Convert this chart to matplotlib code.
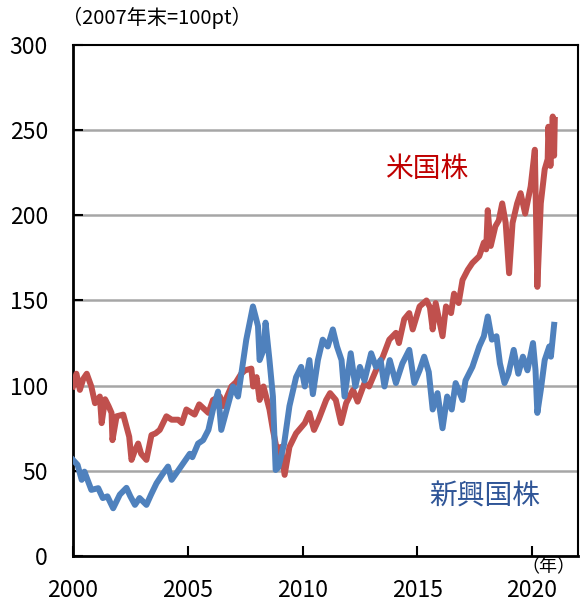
import matplotlib.pyplot as plt

plt.rcParams['font.family'] = ['Noto Sans CJK JP', 'DejaVu Sans']

# values (2007 year-end = 100)
us_years = [2000.0, 2000.15, 2000.3, 2000.45, 2000.6, 2000.8, 2000.96, 2001.17, 2001.25, 2001.4,
            2001.55, 2001.68, 2001.72, 2001.9, 2002.19, 2002.33, 2002.45, 2002.55, 2002.7, 2002.84,
            2002.97, 2003.2, 2003.42, 2003.6, 2003.78, 2004.07, 2004.3, 2004.58, 2004.75, 2004.94,
            2005.3, 2005.5, 2005.9, 2006.1, 2006.4, 2006.53, 2006.9, 2007.1, 2007.33, 2007.5,
            2007.77, 2007.85, 2008.0, 2008.13, 2008.3, 2008.56, 2008.71, 2008.86, 2008.9, 2009.05,
            2009.22, 2009.43, 2009.72, 2010.1, 2010.3, 2010.5, 2010.7, 2011.03, 2011.2, 2011.45,
            2011.68, 2011.9, 2012.2, 2012.4, 2012.7, 2012.9, 2013.2, 2013.5, 2013.78, 2014.07,
            2014.2, 2014.43, 2014.65, 2014.8, 2015.1, 2015.4, 2015.55, 2015.67, 2015.8, 2016.1,
            2016.25, 2016.47, 2016.6, 2016.8, 2016.97, 2017.2, 2017.4, 2017.7, 2017.9, 2018.0,
            2018.07, 2018.2, 2018.4, 2018.55, 2018.7, 2018.85, 2019.0, 2019.15, 2019.35, 2019.5,
            2019.7, 2019.94, 2020.12, 2020.23, 2020.38, 2020.55, 2020.68, 2020.71, 2020.8, 2020.9,
            2020.96, 2020.99]
us_values = [99.5, 107, 97.5, 104, 107, 99.5, 89.7, 93.6, 78, 92,
             88, 84, 68, 82, 83, 76, 70, 56.4, 62, 66,
             60, 56.4, 71, 72, 74, 82, 80, 80, 78, 86,
             83, 89, 84, 91.6, 93.6, 88, 99.5, 102, 107, 109,
             110, 99.5, 105, 91.6, 99.5, 86, 74, 64, 54.5, 64,
             47.6, 64, 72, 78, 84, 74, 80, 91.6, 95.6, 91.6,
             78, 89.7, 97.5, 90.6, 101.5, 99.5, 109, 117, 127, 131,
             125, 139, 142.6, 133, 146.5, 150, 146, 133, 148.5, 129,
             146.5, 142.6, 154, 148.5, 162, 168, 172, 176, 184, 180,
             203, 182, 193.5, 197, 207, 195.5, 166, 195.5, 207, 213,
             201, 217, 238.5, 158, 207, 227, 233, 252, 229, 258,
             235, 256]

em_years = [2000.0, 2000.2, 2000.38, 2000.5, 2000.8, 2001.1, 2001.3, 2001.5, 2001.75, 2002.04,
            2002.33, 2002.5, 2002.7, 2002.9, 2003.2, 2003.4, 2003.64, 2003.9, 2004.14, 2004.3,
            2004.6, 2005.09, 2005.2, 2005.45, 2005.67, 2005.9, 2006.1, 2006.32, 2006.46, 2006.7,
            2006.97, 2007.19, 2007.4, 2007.55, 2007.84, 2008.06, 2008.13, 2008.3, 2008.39, 2008.56,
            2008.71, 2008.83, 2008.95, 2009.2, 2009.43, 2009.72, 2009.94, 2010.1, 2010.3, 2010.45,
            2010.67, 2010.88, 2011.1, 2011.32, 2011.5, 2011.7, 2011.83, 2012.1, 2012.3, 2012.5,
            2012.7, 2012.99, 2013.2, 2013.4, 2013.57, 2013.8, 2014.07, 2014.35, 2014.65, 2014.87,
            2015.1, 2015.3, 2015.5, 2015.67, 2015.88, 2016.1, 2016.3, 2016.5, 2016.67, 2016.97,
            2017.1, 2017.4, 2017.7, 2017.9, 2018.07, 2018.25, 2018.45, 2018.6, 2018.8, 2018.97,
            2019.2, 2019.4, 2019.6, 2019.8, 2020.04, 2020.15, 2020.23, 2020.38, 2020.55, 2020.75,
            2020.82, 2020.96]
em_values = [56.4, 53.5, 44.7, 49.5, 38.8, 39.8, 34, 35, 28, 36,
             40, 35, 30, 34, 30, 36, 42.7, 48, 52.5, 44.7,
             50.5, 60, 58, 66, 68, 74, 86, 96.5, 74, 86,
             99.5, 93.6, 113, 127, 146.5, 135, 115, 121, 137, 115,
             93.6, 50.5, 52, 66, 88, 105, 111, 99.5, 115, 95,
             115, 127, 123, 133, 123, 115, 93.6, 119, 99.5, 111,
             103, 119, 111, 115, 99.5, 115, 101.5, 113, 121, 101.5,
             109, 117, 108, 86, 95.6, 75, 93.6, 86, 101.5, 91.6,
             103, 111, 123, 129, 140.6, 127, 129, 113, 101.5, 107,
             121, 107, 117, 109, 125, 109, 84, 97.5, 115, 123,
             117, 135.7]

yticks = [0, 50, 100, 150, 200, 250, 300]
xticks = [2000, 2005, 2010, 2015, 2020]

fig = plt.figure(figsize=(5.81, 6.03), dpi=100)
ax = fig.add_axes([0.1256, 0.078, 0.8692, 0.8474])

ax.plot(us_years, us_values, color='#C0504D', linewidth=4.3, solid_joinstyle='round', zorder=3)
ax.plot(em_years, em_values, color='#4F81BD', linewidth=4.3, solid_joinstyle='round', zorder=4)

ax.set_xlim(2000, 2022)
ax.set_ylim(0, 300)
ax.set_yticks(yticks)
ax.set_xticks(xticks)
ax.tick_params(axis='both', direction='in', length=7, width=1.5, labelsize=16.5, colors='black')
ax.tick_params(axis='x', pad=16.5)
ax.tick_params(axis='y', pad=18)

# horizontal gridlines
for v in [50, 100, 150, 200, 250]:
    ax.axhline(v, color='#A6A6A6', linewidth=1.8, zorder=1)

for side in ['left', 'bottom']:
    ax.spines[side].set_linewidth(2)
for side in ['top', 'right']:
    ax.spines[side].set_linewidth(1.5)

ax.text(2015.4, 227, '米国株', color='#C00000', fontsize=20, ha='center', va='center')
ax.text(2017.96, 35, '新興国株', color='#2F5597', fontsize=20, ha='center', va='center')

fig.text(0.107, 0.97, '（2007年末=100pt）', fontsize=14.5, ha='left', va='center')
fig.text(0.99, 0.06, '（年）', fontsize=13, ha='right', va='center')

fig.savefig('out.png', dpi=100)
